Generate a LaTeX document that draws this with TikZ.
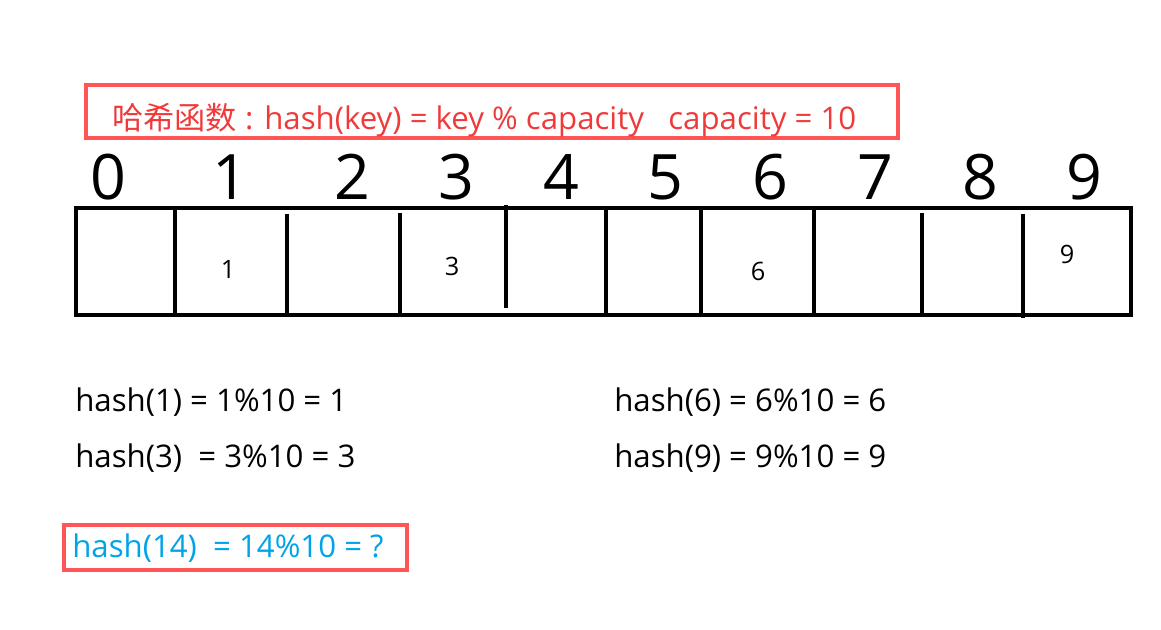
\documentclass[tikz,border=0pt]{standalone}
\usepackage{fontspec}
\setmainfont{Open Sans}
\newfontfamily\cjk{Noto Sans CJK SC}
\definecolor{boxred}{RGB}{255,85,85}
\definecolor{titlered}{RGB}{240,58,58}
\definecolor{qblue}{RGB}{0,163,232}
\begin{document}
\begin{tikzpicture}[x=0.75pt,y=-0.75pt,
  idx/.style={anchor=base,font=\fontsize{47}{50}\selectfont,inner sep=0pt},
  val/.style={anchor=base,font=\fontsize{19}{22}\selectfont,inner sep=0pt},
  eq/.style={anchor=base west,font=\fontsize{23.4}{26}\selectfont,inner sep=0pt},
  grid/.style={line width=3pt},
  redbox/.style={draw=boxred,line width=2.4pt}]
\useasboundingbox (0,0) rectangle (1161,630);

% title
\draw[redbox] (86,85) rectangle (898,138);
\node[eq,text=titlered,font=\fontsize{23.4}{26}\selectfont] (title) at (112,130)
  {{\cjk 哈希函数} : hash(key) = key \% capacity \ \ capacity = 10};

% indices
\foreach \i/\x in {0/108,1/230,2/352,3/456,4/561,5/665,6/770,7/875,8/980,9/1084}
  \node[idx] (i\i) at (\x,200) {\i};

% array
\draw[grid] (76,208) rectangle (1131,315);
\draw[grid] (175,208) -- (175,315);
\draw[grid] (287,214) -- (287,315);
\draw[grid] (400,213) -- (400,315);
\draw[grid] (506,205) -- (506,308);
\draw[grid] (606,208) -- (606,315);
\draw[grid] (701,208) -- (701,315);
\draw[grid] (814,208) -- (814,315);
\draw[grid] (922,213) -- (922,315);
\draw[grid] (1023,214) -- (1023,318);

% values
\node[val] (v1) at (228,279) {1};
\node[val] (v3) at (452,276) {3};
\node[val] (v6) at (758,281) {6};
\node[val] (v9) at (1067,264) {9};

% equations
\node[eq] (h1) at (75,412) {hash(1) = 1\%10 = 1};
\node[eq] (h3) at (75,468) {hash(3) \ = 3\%10 = 3};
\node[eq] (h6) at (614,412) {hash(6) = 6\%10 = 6};
\node[eq] (h9) at (614,468) {hash(9) = 9\%10 = 9};

\draw[redbox] (64,525) rectangle (407,570);
\node[eq,text=qblue] (h14) at (72,558) {hash(14) \ = 14\%10 = ?};
\end{tikzpicture}
\end{document}
